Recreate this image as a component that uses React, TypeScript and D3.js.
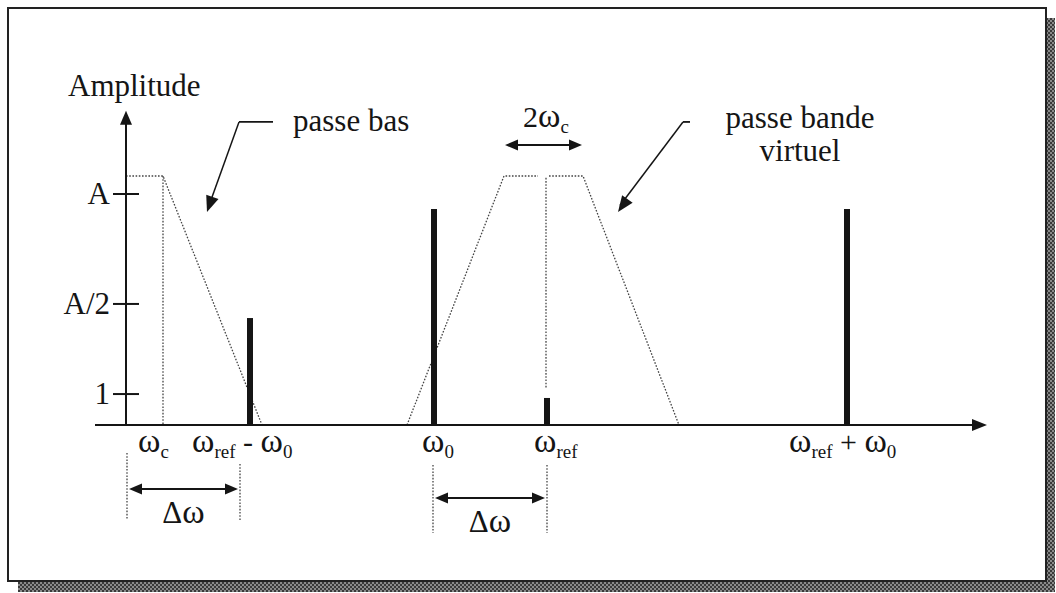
import React from 'react';
import * as d3 from 'd3';

// frequency axis in arbitrary units, amplitude normalised so that A = 1
const lineLabels = [['ω', 'ref', ' - ', 'ω', '0'], ['ω', '0'], ['ω', 'ref'], ['ω', 'ref', ' + ', 'ω', '0']];
const lineFreqs = [12.4, 30.8, 42.1, 72.1];
const lineAmps = [0.463, 0.935, 0.117, 0.935];

const tickLabels = ['A', 'A/2', '1'];
const tickValues = [1, 0.524, 0.134];

const omegaC = 3.7;
const filterTop = 1.078;
const lowPass: [number, number][] = [[0, filterTop], [omegaC, filterTop], [13.6, 0]];
const bandLeft: [number, number][] = [[28.1, 0], [37.8, filterTop], [41.2, filterTop]];
const bandRight: [number, number][] = [[42.3, filterTop], [45.7, filterTop], [55.3, 0]];
const bandCenter: [number, number][] = [[42.0, 1.07], [42.0, 0.16]];

const deltaSpans: [number, number][] = [[0.1, 11.4], [30.7, 42.1]];
const bandWidthSpan: [number, number] = [37.9, 45.6];

const W = 1056;
const H = 593;
const INK = '#151515';
const SERIF = '"Liberation Serif", "Times New Roman", serif';

function Arrow({ x1, y1, x2, y2, len = 14, half = 5.5 }: { x1: number; y1: number; x2: number; y2: number; len?: number; half?: number }) {
  const a = Math.atan2(y2 - y1, x2 - x1);
  const bx = x2 - len * Math.cos(a);
  const by = y2 - len * Math.sin(a);
  const px = -Math.sin(a) * half;
  const py = Math.cos(a) * half;
  return <polygon points={`${x2},${y2} ${bx + px},${by + py} ${bx - px},${by - py}`} fill={INK} />;
}

// ω, subscript, plain text... ; subscripts are the parts following an ω
function Omega({ x, y, parts }: { x: number; y: number; parts: string[] }) {
  let sub = false;
  return (
    <text x={x} y={y} fontFamily={SERIF} fontSize={30} fill={INK}>
      {parts.map((p, i) => {
        if (p === 'ω') {
          const dy = sub ? -6 : 0;
          sub = false;
          return <tspan key={i} fontSize={34} dy={dy}>{p}</tspan>;
        }
        const prevOmega = parts[i - 1] === 'ω';
        if (prevOmega) {
          sub = true;
          return <tspan key={i} fontSize={19} dy={6}>{p}</tspan>;
        }
        const dy = sub ? -6 : 0;
        sub = false;
        return <tspan key={i} dy={dy}>{p}</tspan>;
      })}
    </text>
  );
}

export default function App() {
  const x = d3.scaleLinear().domain([0, 86.1]).range([126, 987]);
  const y = d3.scaleLinear().domain([0, 1]).range([425, 194]);
  const line = d3.line<[number, number]>().x(d => x(d[0])).y(d => y(d[1]));

  const x0 = x(0);
  const yAxisTop = y(1.36);
  const xAxisEnd = x(86.1);
  const dotted = { fill: 'none', stroke: '#444', strokeWidth: 1.3, strokeDasharray: '1.6 1.6' };

  const labelDx = [-58, -12, -13, -58];

  return (
    <svg width={W} height={H} style={{ position: 'absolute', left: 0, top: 0, background: '#fff' }}>
      <defs>
        <pattern id="hatch" width="4" height="4" patternUnits="userSpaceOnUse">
          <rect width="4" height="4" fill="#8a8a8a" />
          <rect width="2" height="2" fill="#3a3a3a" />
          <rect x="2" y="2" width="2" height="2" fill="#3a3a3a" />
        </pattern>
      </defs>

      {/* frame with shadow */}
      <rect x={1046} y={18} width={9} height={573} fill="url(#hatch)" />
      <rect x={18} y={581} width={1037} height={11} fill="url(#hatch)" />
      <rect x={8} y={8} width={1038} height={573} fill="#fff" stroke="#222" strokeWidth={2} />

      {/* filters */}
      <path d={line(lowPass) ?? ''} {...dotted} />
      <path d={line([[omegaC, filterTop], [omegaC, 0]]) ?? ''} {...dotted} />
      <path d={line(bandLeft) ?? ''} {...dotted} />
      <path d={line(bandRight) ?? ''} {...dotted} />
      <path d={line(bandCenter) ?? ''} {...dotted} />

      {/* axes */}
      <line x1={x(-3.1)} y1={y(0)} x2={xAxisEnd - 10} y2={y(0)} stroke={INK} strokeWidth={2.2} />
      <Arrow x1={x0} y1={y(0)} x2={xAxisEnd} y2={y(0)} len={15} half={6} />
      <line x1={x0} y1={y(0)} x2={x0} y2={yAxisTop + 10} stroke={INK} strokeWidth={2} />
      <Arrow x1={x0} y1={y(0)} x2={x0} y2={yAxisTop} len={14} half={6} />
      <text x={68} y={96} fontFamily={SERIF} fontSize={31} fill={INK}>Amplitude</text>

      {tickValues.map((v, i) => (
        <g key={i}>
          <line x1={x0 - 13} x2={x0 + 13} y1={y(v)} y2={y(v)} stroke={INK} strokeWidth={2} />
          <text x={x0 - 16} y={y(v) + 10} textAnchor="end" fontFamily={SERIF} fontSize={31} fill={INK}>{tickLabels[i]}</text>
        </g>
      ))}

      {/* spectral lines */}
      {lineFreqs.map((f, i) => (
        <rect key={i} x={x(f) - 3} y={y(lineAmps[i])} width={6} height={y(0) - y(lineAmps[i])} fill={INK} />
      ))}
      {lineFreqs.map((f, i) => (
        <Omega key={i} x={x(f) + labelDx[i]} y={452} parts={lineLabels[i]} />
      ))}
      <Omega x={x(omegaC) - 25} y={452} parts={['ω', 'c']} />

      {/* Δω spans */}
      {deltaSpans.map(([a, b], i) => {
        const yy = i === 0 ? 489 : 498;
        const top = i === 0 ? 453 : 465;
        const bot = i === 0 ? 520 : 533;
        return (
          <g key={i}>
            <line x1={x(a)} x2={x(a)} y1={top} y2={bot} {...dotted} />
            <line x1={x(b)} x2={x(b)} y1={i === 0 ? 464 : top} y2={bot} {...dotted} />
            <line x1={x(a) + 8} x2={x(b) - 8} y1={yy} y2={yy} stroke={INK} strokeWidth={2} />
            <Arrow x1={x(b)} y1={yy} x2={x(a) + 2} y2={yy} len={13} half={5.5} />
            <Arrow x1={x(a)} y1={yy} x2={x(b) - 2} y2={yy} len={13} half={5.5} />
            <text x={(x(a) + x(b)) / 2} y={yy + 34} textAnchor="middle" fontFamily={SERIF} fontSize={31} fill={INK}>
              Δ<tspan fontSize={34}>ω</tspan>
            </text>
          </g>
        );
      })}

      {/* 2ωc band width */}
      <line x1={x(bandWidthSpan[0]) + 8} x2={x(bandWidthSpan[1]) - 8} y1={y(1.212)} y2={y(1.212)} stroke={INK} strokeWidth={2} />
      <Arrow x1={x(bandWidthSpan[1])} y1={y(1.212)} x2={x(bandWidthSpan[0])} y2={y(1.212)} len={13} half={5.5} />
      <Arrow x1={x(bandWidthSpan[0])} y1={y(1.212)} x2={x(bandWidthSpan[1])} y2={y(1.212)} len={13} half={5.5} />
      <text x={x(42.0)} y={y(1.29)} textAnchor="middle" fontFamily={SERIF} fontSize={30} fill={INK}>
        2<tspan fontSize={34}>ω</tspan><tspan fontSize={19} dy={6}>c</tspan>
      </text>

      {/* annotations */}
      <line x1={x(11.3)} x2={x(14.7)} y1={y(1.312)} y2={y(1.312)} stroke={INK} strokeWidth={1.8} />
      <line x1={x(11.3)} y1={y(1.312)} x2={x(8.3)} y2={y(0.95)} stroke={INK} strokeWidth={1.5} />
      <Arrow x1={x(11.3)} y1={y(1.312)} x2={x(8.1)} y2={y(0.922)} len={16} half={6.5} />
      <text x={293} y={131} fontFamily={SERIF} fontSize={31} fill={INK}>passe bas</text>

      <line x1={x(55.7)} x2={x(56.4)} y1={y(1.312)} y2={y(1.312)} stroke={INK} strokeWidth={1.8} />
      <line x1={x(55.7)} y1={y(1.312)} x2={x(49.4)} y2={y(0.95)} stroke={INK} strokeWidth={1.5} />
      <Arrow x1={x(55.7)} y1={y(1.312)} x2={x(49.2)} y2={y(0.922)} len={16} half={6.5} />
      <text x={800} y={128} textAnchor="middle" fontFamily={SERIF} fontSize={31} fill={INK}>passe bande</text>
      <text x={800} y={161} textAnchor="middle" fontFamily={SERIF} fontSize={31} fill={INK}>virtuel</text>
    </svg>
  );
}
